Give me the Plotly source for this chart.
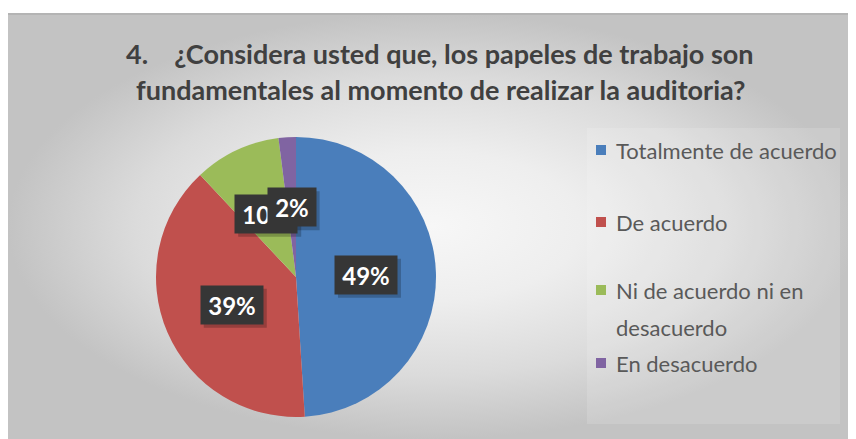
import math
import plotly.graph_objects as go

# ---------------- data ----------------
categories = ["Totalmente de acuerdo", "De acuerdo",
              "Ni de acuerdo ni en|desacuerdo", "En desacuerdo"]
values = [49, 39, 10, 2]
colors = ["#4A7EBB", "#C0504D", "#9BBB59", "#8064A2"]
pct_labels = ["49%", "39%", "10%", "2%"]
title_lines = ["4.\u00a0\u00a0\u00a0\u00a0¿Considera usted que, los papeles de trabajo son",
               "fundamentales al momento de realizar la auditoria?"]

# ---------------- layout geometry (styling) ----------------
OFF = 8                      # page body margin of the html page
W, H = 848, 431              # figure size (fits 856x439 window with offset)
ML, MR, MT, MB = 0, 0, 5, 0
PW, PH = W - ML - MR, H - MT - MB


def fx(px):
    """page pixel x -> paper fraction"""
    return (px - OFF - ML) / PW


def fy(py):
    """page pixel y -> paper fraction"""
    return (OFF + MT + PH - py) / PH


CX, CY, R = 296, 277, 140
dom_x = [fx(CX - R), fx(CX + R)]
dom_y = [fy(CY + R), fy(CY - R)]

fig = go.Figure()

# background with radial gradient
fig.add_trace(go.Scatter(
    x=[0, 1, 1, 0, 0], y=[0, 0, 1, 1, 0], mode="none", fill="toself",
    fillgradient=dict(type="radial",
                      colorscale=[[0, "#f7f7f7"], [0.35, "#eeeeee"], [0.7, "#dbdbdb"], [1, "#c3c3c3"]]),
    hoverinfo="skip", showlegend=False))

# pie
fig.add_trace(go.Pie(
    labels=[c.replace("|", " ") for c in categories], values=values,
    marker=dict(colors=colors, line=dict(width=0)),
    sort=False, direction="clockwise", rotation=0,
    textinfo="none", hoverinfo="label+percent",
    domain=dict(x=dom_x, y=dom_y), showlegend=False))

annotations = []
shapes = []

# title
for i, line in enumerate(title_lines):
    annotations.append(dict(
        text=line, x=fx(440), y=fy(54 + i * 35), xref="paper", yref="paper",
        xanchor="center", yanchor="middle", showarrow=False,
        font=dict(family="Lato", size=27, color="#404040", weight="bold")))

# data labels (dark boxes) at half radius of each slice's mid angle
total = sum(values)
cum = 0
BH = 38
for v, lab in zip(values, pct_labels):
    mid = (cum + v / 2) / total * 2 * math.pi
    cum += v
    px = CX + 0.5 * R * math.sin(mid)
    py = CY - 0.5 * R * math.cos(mid)
    bw = 14 * len(lab) + 20
    # soft shadow (shape, drawn beneath the label boxes)
    shapes.append(dict(type="rect", xref="paper", yref="paper",
                       x0=fx(px - bw / 2 + 3), x1=fx(px + bw / 2 + 4),
                       y0=fy(py + BH / 2 + 4), y1=fy(py - BH / 2 + 3),
                       fillcolor="rgba(0,0,0,0.22)", line=dict(width=0), layer="above"))
    annotations.append(dict(
        text=lab, x=fx(px), y=fy(py), xref="paper", yref="paper",
        xanchor="center", yanchor="middle",
        showarrow=False, width=bw - 6, height=BH - 6, borderpad=3,
        bgcolor="#363636", font=dict(family="Lato", size=24, color="white", weight="bold")))

# legend box
shapes.append(dict(type="rect", xref="paper", yref="paper",
                   x0=fx(587), x1=fx(840), y0=fy(424), y1=fy(128),
                   fillcolor="rgba(255,255,255,0.14)", line=dict(width=0), layer="above"))
# top darker edge
shapes.append(dict(type="line", xref="paper", yref="paper",
                   x0=0, x1=1, y0=fy(14), y1=fy(14),
                   line=dict(color="#b4b4b4", width=2), layer="above"))

legend_y = [150, 222, 290, 363]
for cat, col, ly in zip(categories, colors, legend_y):
    shapes.append(dict(type="rect", xref="paper", yref="paper",
                       x0=fx(596), x1=fx(606), y0=fy(ly + 5), y1=fy(ly - 5),
                       fillcolor=col, line=dict(width=0), layer="above"))
    for j, part in enumerate(cat.split("|")):
        annotations.append(dict(
            text=part, x=fx(614), y=fy(ly + j * 37), xref="paper", yref="paper",
            xanchor="left", yanchor="middle", showarrow=False,
            font=dict(family="Lato", size=22, color="#595959")))

fig.update_layout(
    width=W, height=H, margin=dict(l=ML, r=MR, t=MT, b=MB),
    paper_bgcolor="white", plot_bgcolor="rgba(0,0,0,0)",
    xaxis=dict(visible=False, range=[0, 1], domain=[0, 1], fixedrange=True),
    yaxis=dict(visible=False, range=[0, 1], domain=[0, 1], fixedrange=True),
    annotations=annotations, shapes=shapes, showlegend=False)

fig.write_html("out.html")
